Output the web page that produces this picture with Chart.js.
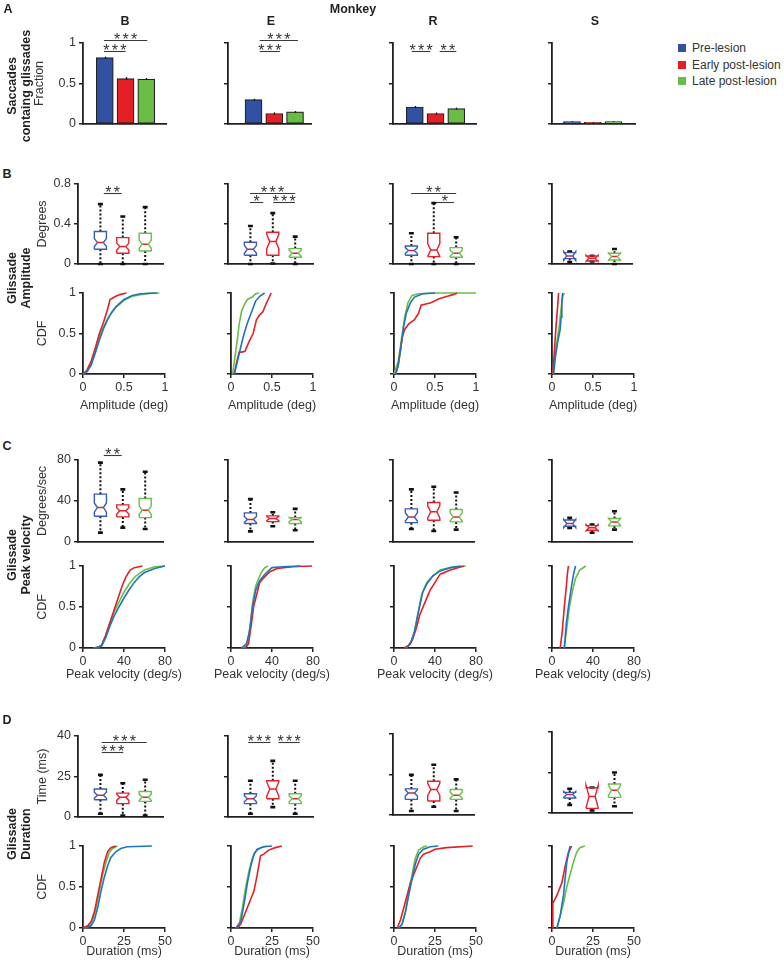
<!DOCTYPE html>
<html>
<head>
<meta charset="utf-8">
<script src="https://cdn.jsdelivr.net/npm/chart.js@4.4.1/dist/chart.umd.min.js"></script>
<style>
  body { margin: 0; background: #fff; width: 784px; height: 960px; position: relative; overflow: hidden;
         font-family: "Liberation Sans", Arial, sans-serif; color: #231f20; }
  canvas { position: absolute; }
  .t { position: absolute; white-space: nowrap; font-size: 12.5px; line-height: 14px; text-align: center;
       transform: translate(-50%, -50%); }
  .b { font-weight: bold; }
  .r { transform: translate(-50%, -50%) rotate(-90deg); }
  .lg { position: absolute; left: 678px; font-size: 12px; color: #333; white-space: nowrap; }
  .lg span { display: inline-block; width: 8px; height: 8px; margin-right: 6px; }
</style>
</head>
<body>
<script>
// ---------- data ----------
const groups = ['Pre-lesion', 'Early post-lesion', 'Late post-lesion'];
const monkeys = ['B', 'E', 'R', 'S'];

// A: fraction of saccades containing glissades, per monkey [pre, early, late]
const fraction = [[0.82, 0.56, 0.555], [0.30, 0.13, 0.15], [0.21, 0.13, 0.19], [0.03, 0.02, 0.03]];
const fractionErr = [[0.012, 0.018, 0.012], [0.012, 0.014, 0.01], [0.012, 0.012, 0.012], [0.005, 0.005, 0.005]];
const fractionTicks = [0, 0.5, 1];
const fractionLabels = ['0', '0.5', '1'];
// significance bars: [from, to, height, stars]
const fractionSig = [
  [[0.96, 3.05, 1.033, '***'], [0.96, 2.0, 0.905, '***']],
  [[1.3, 3.14, 1.033, '***'], [1.3, 2.27, 0.905, '***']],
  [[0.85, 1.75, 0.905, '***'], [2.2, 3.0, 0.905, '**']],
  []
];

// box stats: [min, q1, median, q3, max, notch half-height]
const ampBox = [
  [[0, 0.147, 0.214, 0.325, 0.599, 0.04], [0, 0.107, 0.174, 0.264, 0.475, 0.035], [0, 0.13, 0.197, 0.308, 0.569, 0.04]],
  [[0, 0.087, 0.147, 0.218, 0.38, 0.04], [0.005, 0.087, 0.224, 0.318, 0.509, 0.07], [0, 0.067, 0.107, 0.154, 0.274, 0.03]],
  [[0, 0.087, 0.134, 0.18, 0.308, 0.03], [0, 0.074, 0.14, 0.308, 0.61, 0.065], [0, 0.067, 0.107, 0.164, 0.268, 0.03]],
  [[0.02, 0.054, 0.08, 0.114, 0.124, 0.045], [0.025, 0.03, 0.057, 0.08, 0.082, 0.03], [0, 0.04, 0.074, 0.107, 0.15, 0.035]]
];
const ampTicks = [0, 0.4, 0.8];
const ampLabels = ['0', '0.4', '0.8'];
const ampSig = [
  [[1.15, 1.95, 0.707, '**']],
  [[0.98, 3.0, 0.713, '***'], [0.98, 1.57, 0.623, '*'], [2.02, 2.99, 0.623, '***']],
  [[0.99, 3.0, 0.713, '**'], [2.1, 2.9, 0.623, '*']],
  []
];

const velBox = [
  [[9.1, 25.1, 33.6, 46.7, 77.4, 4.5], [14, 24.5, 30.4, 36.2, 51.3, 3], [12.7, 23.8, 31, 42.4, 68.6, 4]],
  [[10.4, 18, 21.9, 28.4, 41.8, 3], [15.3, 19.9, 22.9, 25.5, 29, 2], [11.4, 18, 21.9, 23.8, 32.3, 2]],
  [[12.7, 18.9, 24.5, 32.3, 51.3, 4], [10.8, 21.2, 29.4, 38.5, 53.9, 6], [12.1, 19.6, 24.5, 31.7, 48.3, 4]],
  [[13.7, 15.3, 18, 21.5, 23.5, 4], [9, 11.4, 14, 16, 17, 3], [12.1, 15.7, 19.6, 22.9, 30, 3.5]]
];
const velTicks = [0, 40, 80];
const velLabels = ['0', '40', '80'];
const velSig = [[[1.15, 1.95, 84.9, '**']], [], [], []];

const durBox = [
  [[1.6, 8.5, 10.7, 13.8, 20.8, 1.5], [0.7, 6.6, 9.7, 11.8, 16.7, 1.5], [0.7, 7.7, 9.8, 12.6, 18.4, 1.5]],
  [[1.6, 6.6, 9, 11.5, 17.9, 1.5], [4.9, 9, 13.8, 17.9, 27.7, 3.5], [1.6, 6.6, 9, 11.5, 17.9, 1.5]],
  [[2, 7.7, 10.9, 12.9, 19.8, 1.5], [4.1, 6.9, 12.6, 16.7, 24.8, 3], [2, 7.7, 9.8, 12.6, 17.6, 1.5]],
  [[4, 7.4, 9.1, 10.2, 12, 1.5], [1.2, 2.3, 8.2, 12.5, 12.6, 5.5], [3.3, 7.7, 11.2, 14.3, 20, 2.5]]
];
const durTicks = [0, 20, 40];
const durLabels = ['0', '25', '40'];   // labels as printed on the original axis
const durSig = [
  [[1.06, 3.07, 36.9, '***'], [1.06, 2.02, 32, '***']],
  [[0.9, 1.9, 36.9, '***'], [2.25, 3.2, 36.9, '***']],
  [], []
];

// CDFs: per monkey [pre, early, late], points [x, cdf]
const ampCdfB = [
  [[0,0],[0.05,0.03],[0.1,0.11],[0.15,0.26],[0.2,0.42],[0.25,0.56],[0.3,0.67],[0.35,0.76],[0.4,0.83],[0.5,0.92],[0.6,0.97],[0.7,0.99],[0.9,1]],
  [[0,0],[0.05,0.05],[0.1,0.16],[0.15,0.32],[0.2,0.5],[0.25,0.64],[0.3,0.8],[0.33,0.92],[0.4,0.96],[0.45,0.98],[0.53,1]],
  [[0,0],[0.05,0.04],[0.1,0.14],[0.15,0.3],[0.2,0.46],[0.25,0.58],[0.3,0.68],[0.35,0.76],[0.4,0.82],[0.5,0.91],[0.6,0.96],[0.7,0.98],[0.8,0.995],[0.93,1]]
];
const ampCdfE = [
  [[0.04,0],[0.07,0.12],[0.1,0.25],[0.13,0.38],[0.16,0.5],[0.2,0.63],[0.245,0.75],[0.3,0.9],[0.35,0.96],[0.41,1]],
  [[0.04,0],[0.07,0.15],[0.1,0.27],[0.13,0.27],[0.17,0.28],[0.22,0.4],[0.27,0.5],[0.31,0.67],[0.35,0.73],[0.39,0.77],[0.43,0.87],[0.49,1]],
  [[0.02,0],[0.05,0.22],[0.08,0.45],[0.1,0.62],[0.13,0.78],[0.17,0.87],[0.2,0.92],[0.26,0.95],[0.3,0.99],[0.34,1]]
];
const ampCdfR = [
  [[0.02,0],[0.05,0.1],[0.08,0.3],[0.1,0.45],[0.12,0.6],[0.15,0.75],[0.2,0.88],[0.25,0.95],[0.35,0.99],[0.5,1]],
  [[0.02,0],[0.05,0.1],[0.08,0.3],[0.1,0.45],[0.13,0.55],[0.18,0.62],[0.25,0.67],[0.3,0.75],[0.33,0.85],[0.45,0.88],[0.55,0.93],[0.65,0.96],[0.72,0.98],[0.77,1]],
  [[0,0],[0.05,0.15],[0.08,0.35],[0.1,0.5],[0.13,0.7],[0.17,0.88],[0.22,0.97],[0.3,0.99],[0.5,1],[1.0,1]]
];
const ampCdfS = [
  [[0.02,0],[0.04,0.2],[0.07,0.4],[0.1,0.55],[0.11,0.7],[0.12,0.9],[0.13,1]],
  [[0.01,0],[0.03,0.3],[0.05,0.6],[0.07,0.85],[0.08,1]],
  [[0.01,0],[0.03,0.2],[0.06,0.4],[0.09,0.6],[0.11,0.8],[0.13,0.95],[0.15,1]]
];
const ampCdfTicks = [0, 0.5, 1];
const ampCdfLabels = ['0', '0.5', '1'];

const velCdfB = [
  [[10,0],[18,0.02],[22,0.12],[26,0.26],[30,0.38],[35,0.5],[40,0.61],[45,0.71],[50,0.8],[55,0.87],[60,0.92],[70,0.97],[80,1]],
  [[13,0],[18,0.03],[22,0.15],[26,0.3],[30,0.45],[34,0.6],[38,0.75],[42,0.87],[46,0.95],[50,0.98],[58,1]],
  [[13,0],[18,0.03],[22,0.15],[26,0.3],[30,0.43],[35,0.56],[40,0.68],[45,0.78],[50,0.86],[55,0.91],[60,0.95],[70,0.99],[80,1]]
];
const velCdfE = [
  [[10,0],[15,0.05],[18,0.2],[21,0.5],[24,0.7],[28,0.82],[33,0.9],[40,0.98],[50,0.99],[68,1]],
  [[14,0],[17,0.05],[20,0.3],[22,0.5],[25,0.65],[28,0.8],[33,0.87],[38,0.93],[45,0.97],[60,0.99],[79,1]],
  [[12,0],[16,0.05],[19,0.3],[21,0.55],[24,0.75],[27,0.85],[30,0.93],[33,0.98],[36,1]]
];
const velCdfR = [
  [[12,0],[16,0.05],[20,0.2],[24,0.45],[28,0.68],[32,0.78],[38,0.88],[45,0.94],[55,0.98],[65,1]],
  [[10,0],[14,0.03],[18,0.1],[22,0.25],[25,0.4],[30,0.55],[35,0.7],[40,0.8],[45,0.9],[55,0.95],[68,1]],
  [[12,0],[16,0.05],[20,0.2],[23,0.4],[27,0.65],[32,0.8],[38,0.88],[45,0.95],[55,0.98],[70,1]]
];
const velCdfS = [
  [[12,0],[14,0.3],[16,0.5],[19,0.75],[21,0.9],[23,1]],
  [[8,0],[10,0.2],[12,0.5],[14,0.75],[15,0.9],[16,1]],
  [[12,0],[14,0.2],[17,0.5],[20,0.7],[23,0.85],[27,0.95],[33,1]]
];
const velCdfTicks = [0, 40, 80];
const velCdfLabels = ['0', '40', '80'];

const durCdfB = [
  [[2,0],[5,0.03],[7,0.1],[9,0.25],[11,0.45],[13,0.62],[15,0.76],[17,0.86],[20,0.93],[23,0.97],[27,0.99],[42,1]],
  [[0,0],[3,0.03],[5,0.08],[7,0.2],[9,0.4],[11,0.6],[13,0.8],[15,0.93],[17,0.98],[20,1]],
  [[1,0],[4,0.03],[6,0.1],[8,0.25],[10,0.45],[12,0.65],[14,0.8],[16,0.92],[18,0.97],[21,1]]
];
const durCdfE = [
  [[3,0],[6,0.08],[8,0.3],[10,0.55],[12,0.75],[14,0.9],[16,0.96],[20,0.99],[25,1]],
  [[4,0],[6,0.05],[8,0.15],[10,0.25],[12,0.35],[14,0.45],[16,0.65],[18,0.88],[20,0.9],[23,0.95],[27,0.98],[31,1]],
  [[3,0],[5,0.05],[7,0.25],[9,0.5],[11,0.7],[13,0.85],[15,0.93],[18,0.98],[22,1]]
];
const durCdfR = [
  [[3,0],[5,0.05],[7,0.2],[9,0.4],[11,0.6],[13,0.78],[15,0.9],[18,0.96],[22,0.99],[27,1]],
  [[2,0],[4,0.1],[6,0.25],[8,0.4],[10,0.55],[12,0.65],[14,0.75],[16,0.85],[18,0.9],[22,0.93],[25,0.96],[32,0.98],[48,1]],
  [[3,0],[5,0.05],[7,0.2],[9,0.45],[11,0.65],[13,0.85],[15,0.95],[18,0.99],[20,1]]
];
const durCdfS = [
  [[3,0],[5,0.15],[7,0.4],[8,0.6],[9,0.8],[10,0.9],[11,1]],
  [[0,0],[0.5,0.3],[3,0.4],[6,0.55],[8,0.75],[10,0.92],[12,1]],
  [[3,0],[5,0.15],[7,0.3],[9,0.5],[11,0.65],[13,0.8],[15,0.92],[17,0.98],[20,1]]
];
const durCdfTicks = [0, 25, 50];
const durCdfLabels = ['0', '25', '50'];

// ---------- style / layout ----------
const FONT = '"Liberation Sans", Arial, sans-serif';
const AX = '#231f20';
const TXT = '#333';
const barColors = ['#3152a3', '#e41f26', '#69bd45'];
const boxColors = ['#3a5bb1', '#e8202a', '#6cbf4a'];
const cdfColors = ['#1f74bf', '#e41f26', '#69bd45'];
const MEDIAN = '#e8202a';

const YW = 56, PT = 24, PR = 16, PRC = 34;   // canvas margins round the plot area
const colBar = [83, 228, 393, 552], barW = 83, barXMin = [-0.05, -0.23, -0.05, 0.04];
const colBox = [78, 228, 393, 552], boxW = [85, 85, 81, 80], boxXMin = [0, 0, 0.18, 0.21], boxUnit = 22.4;
const colCdf = [83, 231, 394, 552], cdfW = 82;
const durBoxTop = [736, 736, 734, 732];

Chart.defaults.font.family = FONT;

function addCanvas(left, top, w, h) {
  const cv = document.createElement('canvas');
  cv.width = w; cv.height = h;
  cv.style.left = left + 'px'; cv.style.top = top + 'px';
  cv.style.width = w + 'px'; cv.style.height = h + 'px';
  document.body.appendChild(cv);
  return cv;
}

function yAxis(ticks, labels, showLabels, title, titleX, plotLeft) {
  return {
    type: 'linear', min: ticks[0], max: ticks[ticks.length - 1],
    afterBuildTicks: s => { s.ticks = ticks.map(v => ({ value: v })); },
    afterFit: s => { s.width = YW; s.paddingTop = 0; s.paddingBottom = 0; },
    grid: { drawOnChartArea: false, drawTicks: true, tickLength: 4, color: AX, lineWidth: 1.5 },
    border: { display: true, color: AX, width: 1.8 },
    ticks: { display: showLabels, padding: 3, color: TXT, font: { size: 12.5 }, callback: (v, i) => labels[i] },
    title: { display: !!title, text: title || '', color: TXT, font: { size: 12.5 },
             padding: { top: title ? titleX - plotLeft + YW - 7.5 : 0, bottom: 0 } }
  };
}

function plainX(min, max, h) {
  return {
    type: 'linear', min, max, offset: false,
    afterFit: s => { s.height = h; s.paddingLeft = 0; s.paddingRight = 0; },
    grid: { display: false, offset: false },
    ticks: { display: false },
    border: { display: true, color: AX, width: 1.8 }
  };
}

function cdfX(ticks, labels, h) {
  return {
    type: 'linear', min: ticks[0], max: ticks[ticks.length - 1],
    afterBuildTicks: s => { s.ticks = ticks.map(v => ({ value: v })); },
    afterFit: s => { s.height = h; s.paddingLeft = 0; s.paddingRight = 0; },
    grid: { drawOnChartArea: false, drawTicks: true, tickLength: 4, color: AX, lineWidth: 1.5 },
    border: { display: true, color: AX, width: 1.8 },
    ticks: { padding: 2, color: TXT, font: { size: 12.5 }, maxRotation: 0, callback: (v, i) => labels[i] }
  };
}

// significance bars and bar error bars, drawn through the chart scales
function marksPlugin(sig, err) {
  return {
    id: 'marks',
    afterDraw(chart) {
      const { ctx, scales: { x, y } } = chart;
      ctx.save();
      if (err) {
        ctx.strokeStyle = '#111'; ctx.lineWidth = 1.3;
        err.vals.forEach((v, i) => {
          const px = Math.round(x.getPixelForValue(i + 1)) + 0.5;
          ctx.beginPath();
          ctx.moveTo(px, y.getPixelForValue(v + err.e[i]));
          ctx.lineTo(px, y.getPixelForValue(v - err.e[i]));
          ctx.stroke();
        });
      }
      sig.forEach(([a, b, h, stars]) => {
        const x1 = x.getPixelForValue(a), x2 = x.getPixelForValue(b);
        const py = Math.round(y.getPixelForValue(h)) + 0.5;
        ctx.strokeStyle = '#3a3a3a'; ctx.lineWidth = 1.1; ctx.setLineDash([]);
        ctx.beginPath(); ctx.moveTo(x1, py); ctx.lineTo(x2, py); ctx.stroke();
        ctx.fillStyle = TXT; ctx.font = '16px ' + FONT; ctx.textAlign = 'center'; ctx.textBaseline = 'alphabetic';
        const cx = (x1 + x2) / 2, step = 8.5;
        for (let k = 0; k < stars.length; k++) {
          ctx.fillText('*', cx + (k - (stars.length - 1) / 2) * step, py + 4.5);
        }
      });
      ctx.restore();
    }
  };
}

// x axis title drawn without the width limit of the scale box
function xTitlePlugin(text, off) {
  return {
    id: 'xtitle',
    afterDraw(chart) {
      const { ctx, chartArea } = chart;
      ctx.save();
      ctx.font = '12.5px ' + FONT; ctx.fillStyle = TXT;
      ctx.textAlign = 'center'; ctx.textBaseline = 'middle';
      ctx.fillText(text, (chartArea.left + chartArea.right) / 2, chartArea.bottom + off);
      ctx.restore();
    }
  };
}

const baseOpts = {
  responsive: false, animation: false, devicePixelRatio: 1,
  events: [],
  plugins: { legend: { display: false }, tooltip: { enabled: false } }
};

// ---------- A: bar charts ----------
function barPanel(m) {
  const pl = colBar[m], top = 43, ph = 81;
  const cv = addCanvas(pl - YW, top - PT, YW + barW + PR, PT + ph + 4);
  new Chart(cv, {
    type: 'bar',
    data: {
      datasets: [{
        data: fraction[m].map((v, i) => ({ x: i + 1, y: v })),
        backgroundColor: barColors, borderColor: '#222', borderWidth: 1.2,
        barThickness: 17, borderSkipped: false
      }]
    },
    options: Object.assign({}, baseOpts, {
      layout: { padding: { top: PT, right: PR, left: 0, bottom: 0 } },
      scales: {
        x: plainX(barXMin[m], barXMin[m] + 4, 4),
        y: yAxis(fractionTicks, fractionLabels, m === 0, m === 0 ? 'Fraction' : null, 40, pl)
      }
    }),
    plugins: [marksPlugin(fractionSig[m], { vals: fraction[m], e: fractionErr[m] })]
  });
}

// ---------- box plots ----------
function boxDatasets(boxes) {
  const hw = 0.27, cw = 0.11;
  const sets = [];
  const whisk = [], caps = [], meds = [];
  boxes.forEach(([mn, q1, md, q3, mx, n], i) => {
    const c = i + 1;
    sets.push({
      data: [
        { x: c - hw, y: q1 }, { x: c - hw, y: md - n }, { x: c - hw / 2, y: md }, { x: c - hw, y: md + n },
        { x: c - hw, y: q3 }, { x: c + hw, y: q3 }, { x: c + hw, y: md + n }, { x: c + hw / 2, y: md },
        { x: c + hw, y: md - n }, { x: c + hw, y: q1 }, { x: c - hw, y: q1 }
      ],
      borderColor: boxColors[i], borderWidth: 1.4
    });
    whisk.push({ x: c, y: q3 }, { x: c, y: mx }, { x: c, y: null }, { x: c, y: q1 }, { x: c, y: mn }, { x: c, y: null });
    caps.push({ x: c - cw, y: mx }, { x: c + cw, y: mx }, { x: c, y: null }, { x: c - cw, y: mn }, { x: c + cw, y: mn }, { x: c, y: null });
    meds.push({ x: c - hw / 2, y: md }, { x: c + hw / 2, y: md }, { x: c, y: null });
  });
  sets.push({ data: whisk, borderColor: '#111', borderWidth: 2, borderDash: [2, 2] });
  sets.push({ data: caps, borderColor: '#111', borderWidth: 2.6 });
  sets.push({ data: meds, borderColor: MEDIAN, borderWidth: 1.5 });
  sets.forEach(s => Object.assign(s, { showLine: true, pointRadius: 0, tension: 0, spanGaps: false, clip: false }));
  return sets;
}

function boxPanel(m, top, ph, boxes, ticks, labels, sig, title) {
  const pl = colBox[m], w = boxW[m];
  const cv = addCanvas(pl - YW, top - PT, YW + w + PR, PT + ph + 4);
  new Chart(cv, {
    type: 'scatter',
    data: { datasets: boxDatasets(boxes) },
    options: Object.assign({}, baseOpts, {
      layout: { padding: { top: PT, right: PR, left: 0, bottom: 0 } },
      scales: {
        x: plainX(boxXMin[m], boxXMin[m] + w / boxUnit, 4),
        y: yAxis(ticks, labels, m === 0, m === 0 ? title : null, 42.5, pl)
      }
    }),
    plugins: [marksPlugin(sig, null)]
  });
}

// ---------- CDF line plots ----------
function cdfPanel(m, top, ph, series, xTicks, xLabels, xTitle, titleOff) {
  const pl = colCdf[m], xH = titleOff + 10;
  const cv = addCanvas(pl - YW, top - PT, YW + cdfW + PRC, PT + ph + xH);
  new Chart(cv, {
    type: 'scatter',
    data: {
      datasets: [0, 1, 2].map(g => ({
        label: groups[g],
        data: series[g].map(([x, y]) => ({ x, y })),
        showLine: true, pointRadius: 0, tension: 0, clip: false,
        borderColor: cdfColors[g], borderWidth: 1.6
      }))
    },
    options: Object.assign({}, baseOpts, {
      layout: { padding: { top: PT, right: PRC, left: 0, bottom: 0 } },
      scales: {
        x: cdfX(xTicks, xLabels, xH),
        y: yAxis([0, 0.5, 1], ['0', '0.5', '1'], m === 0, m === 0 ? 'CDF' : null, 42.5, pl)
      }
    }),
    plugins: [xTitlePlugin(xTitle, titleOff)]
  });
}

const ampCdf = [ampCdfB, ampCdfE, ampCdfR, ampCdfS];
const velCdf = [velCdfB, velCdfE, velCdfR, velCdfS];
const durCdf = [durCdfB, durCdfE, durCdfR, durCdfS];

monkeys.forEach((name, m) => {
  barPanel(m);
  boxPanel(m, 184, 80, ampBox[m], ampTicks, ampLabels, ampSig[m], 'Degrees');
  cdfPanel(m, 293, 81, ampCdf[m], ampCdfTicks, ampCdfLabels, 'Amplitude (deg)', 32);
  boxPanel(m, 460, 82, velBox[m], velTicks, velLabels, velSig[m], 'Degrees/sec');
  cdfPanel(m, 566, 82, velCdf[m], velCdfTicks, velCdfLabels, 'Peak velocity (deg/s)', 27);
  boxPanel(m, durBoxTop[m], 81, durBox[m], durTicks, durLabels, durSig[m], 'Time (ms)');
  cdfPanel(m, 846, 82, durCdf[m], durCdfTicks, durCdfLabels, 'Duration (ms)', 24);
});

// ---------- text ----------
function label(html, x, y, cls) {
  const d = document.createElement('div');
  d.className = 't ' + (cls || '');
  d.style.left = x + 'px'; d.style.top = y + 'px';
  d.innerHTML = html;
  document.body.appendChild(d);
}

label('Monkey', 353, 9, 'b');
const colTitleX = [125, 271, 433, 595];
monkeys.forEach((name, m) => label(name, colTitleX[m], 21, 'b'));

label('A', 8, 9, 'b');
label('B', 7, 174, 'b');
label('C', 7, 446, 'b');
label('D', 7, 720, 'b');

label('Saccades<br>containg glissades', 19, 86, 'b r');
label('Glissade<br>Amplitude', 19, 278, 'b r');
label('Glissade<br>Peak velocity', 19, 555, 'b r');
label('Glissade<br>Duration', 19, 834, 'b r');

// legend
const legendColors = ['#2f4fa3', '#e41f26', '#69bd45'];
groups.forEach((g, i) => {
  const d = document.createElement('div');
  d.className = 'lg';
  d.style.top = (41 + i * 16.5) + 'px';
  d.innerHTML = `<span style="background:${legendColors[i]}"></span>${g}`;
  document.body.appendChild(d);
});
</script>
</body>
</html>
